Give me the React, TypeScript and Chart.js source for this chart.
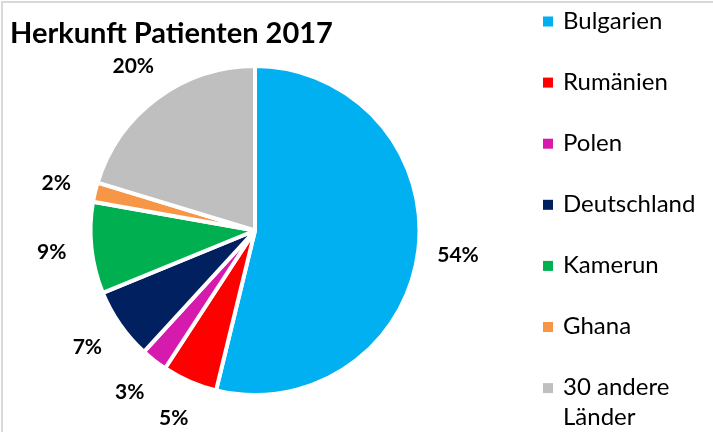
import { useEffect, useRef } from "react";
import { Chart, registerables } from "chart.js";

Chart.register(...registerables);

const chartTitle = "Herkunft Patienten 2017";
const categories = ["Bulgarien", "Rumänien", "Polen", "Deutschland", "Kamerun", "Ghana", "30 andere Länder"];
const legendLines = [["Bulgarien"], ["Rumänien"], ["Polen"], ["Deutschland"], ["Kamerun"], ["Ghana"], ["30 andere", "Länder"]];
const shares = [53.8, 5.4, 2.6, 7.0, 9.0, 1.9, 20.3];
const percentLabels = ["54%", "5%", "3%", "7%", "9%", "2%", "20%"];
const sliceColors = ["#00B0F0", "#FF0000", "#D61AAE", "#002060", "#00B050", "#F79646", "#BFBFBF"];

const FONT = "Lato, 'Noto Sans', sans-serif";

const decorPlugin = {
  id: "decor",
  afterDraw(chart: any) {
    const ctx = chart.ctx as CanvasRenderingContext2D;
    ctx.save();
    // frame
    ctx.fillStyle = "#D9D9D9";
    ctx.fillRect(1, 1, chart.width, 2);
    ctx.fillRect(1, 1, 2, chart.height);

    // title
    ctx.fillStyle = "#000000";
    ctx.font = `bold 29px ${FONT}`;
    ctx.textAlign = "left";
    ctx.textBaseline = "alphabetic";
    ctx.fillText(chartTitle, 10, 43);

    // percent labels
    const meta = chart.getDatasetMeta(0);
    ctx.font = `bold 21px ${FONT}`;
    ctx.textAlign = "center";
    ctx.textBaseline = "middle";
    meta.data.forEach((arc: any, i: number) => {
      const mid = (arc.startAngle + arc.endAngle) / 2;
      const r = arc.outerRadius + 40;
      ctx.fillText(percentLabels[i], arc.x + Math.cos(mid) * r, arc.y + Math.sin(mid) * r);
    });

    // legend
    ctx.font = `24px ${FONT}`;
    ctx.textAlign = "left";
    ctx.textBaseline = "alphabetic";
    legendLines.forEach((lines, i) => {
      const cy = 21.5 + i * 61.1;
      ctx.fillStyle = sliceColors[i];
      ctx.fillRect(543, cy - 5, 10, 10);
      ctx.fillStyle = "#000000";
      lines.forEach((ln, j) => {
        ctx.fillText(ln, 563, cy + 7 + j * 30);
      });
    });
    ctx.restore();
  },
};

export default function App() {
  const canvasRef = useRef<HTMLCanvasElement | null>(null);

  useEffect(() => {
    if (!canvasRef.current) return;
    const chart = new Chart(canvasRef.current, {
      type: "pie",
      data: {
        labels: categories,
        datasets: [
          {
            data: shares,
            backgroundColor: sliceColors,
            borderColor: "#FFFFFF",
            borderWidth: 4,
          },
        ],
      },
      options: {
        responsive: false,
        animation: false,
        devicePixelRatio: 1,
        events: [],
        layout: { padding: { left: 88, top: 64, right: 291, bottom: 35 } },
        plugins: {
          legend: { display: false },
          title: { display: false },
          tooltip: { enabled: false },
        },
      },
      plugins: [decorPlugin],
    });
    return () => chart.destroy();
  }, []);

  return (
    <div style={{ position: "absolute", left: 0, top: 0, width: 713, height: 432, background: "#FFFFFF" }}>
      <canvas ref={canvasRef} width={713} height={432} style={{ display: "block" }} />
    </div>
  );
}
